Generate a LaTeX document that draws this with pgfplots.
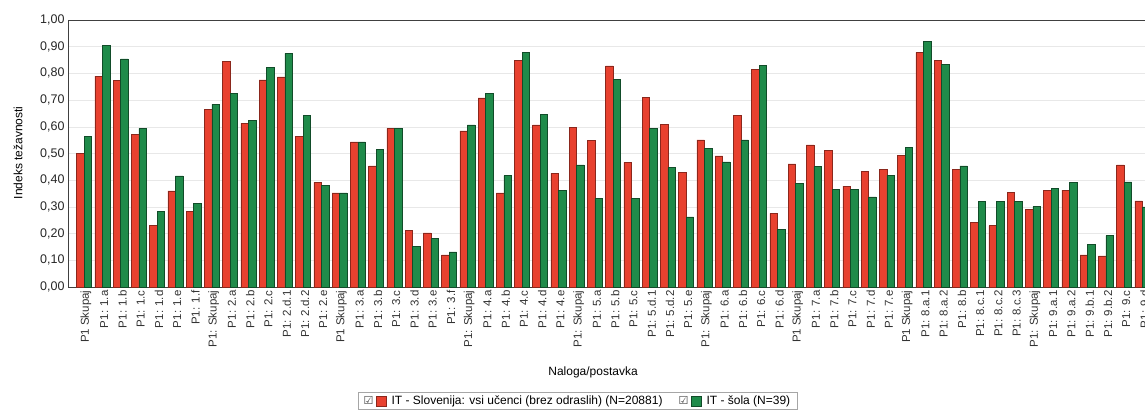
\documentclass[border=0pt]{standalone}
\usepackage{fontspec}
\setmainfont{Liberation Sans}
\newfontfamily\dejavu{DejaVu Sans}
\usepackage{pgfplots}
\usepackage{pgfplotstable}
\pgfplotsset{compat=1.18}
\definecolor{barred}{HTML}{E8412F}
\definecolor{bargreen}{HTML}{1F8B4A}
\pgfplotstableread{
x r g
1 0.500 0.563
2 0.790 0.906
3 0.773 0.854
4 0.573 0.594
5 0.230 0.283
6 0.360 0.416
7 0.283 0.313
8 0.665 0.684
9 0.846 0.725
10 0.613 0.623
11 0.776 0.823
12 0.787 0.875
13 0.563 0.644
14 0.392 0.382
15 0.353 0.353
16 0.544 0.544
17 0.454 0.516
18 0.594 0.594
19 0.213 0.151
20 0.203 0.181
21 0.120 0.132
22 0.585 0.607
23 0.708 0.725
24 0.353 0.417
25 0.848 0.878
26 0.607 0.647
27 0.426 0.363
28 0.598 0.457
29 0.548 0.332
30 0.828 0.779
31 0.467 0.332
32 0.710 0.594
33 0.610 0.447
34 0.428 0.263
35 0.551 0.519
36 0.491 0.469
37 0.643 0.551
38 0.815 0.831
39 0.276 0.217
40 0.461 0.388
41 0.532 0.451
42 0.511 0.366
43 0.378 0.366
44 0.432 0.338
45 0.441 0.419
46 0.492 0.523
47 0.879 0.919
48 0.848 0.835
49 0.441 0.454
50 0.241 0.322
51 0.230 0.322
52 0.355 0.322
53 0.292 0.301
54 0.363 0.370
55 0.363 0.392
56 0.120 0.160
57 0.117 0.192
58 0.457 0.394
59 0.323 0.300
}\data
\pgfplotsset{checkleg/.style={legend image code/.code={%
  \node[inner sep=0pt,anchor=west,font=\dejavu\fontsize{11}{11}\selectfont,text=black!75] at (0pt,0pt) {☑};
  \draw[##1] (13pt,-5pt) rectangle (23pt,5pt);}}}
\begin{document}
\begin{tikzpicture}
\useasboundingbox (0,0) rectangle (1145pt,416pt);
\begin{axis}[
  at={(68pt,129pt)}, anchor=south west,
  scale only axis, width=1077pt, height=267pt,
  xmin=0.123, xmax=59.137, ymin=0, ymax=1,
  ybar=0pt, bar width=7.5pt,
  xtick={1,...,59},
  xticklabels={P1 Skupaj, P1: 1.a, P1: 1.b, P1: 1.c, P1: 1.d, P1: 1.e, P1: 1.f,
    P1: Skupaj, P1: 2.a, P1: 2.b, P1: 2.c, P1: 2.d.1, P1: 2.d.2, P1: 2.e,
    P1 Skupaj, P1: 3.a, P1: 3.b, P1: 3.c, P1: 3.d, P1: 3.e, P1: 3.f,
    P1: Skupaj, P1: 4.a, P1: 4.b, P1: 4.c, P1: 4.d, P1: 4.e,
    P1: Skupaj, P1: 5.a, P1: 5.b, P1: 5.c, P1: 5.d.1, P1: 5.d.2, P1: 5.e,
    P1: Skupaj, P1: 6.a, P1: 6.b, P1: 6.c, P1: 6.d,
    P1 Skupaj, P1: 7.a, P1: 7.b, P1: 7.c, P1: 7.d, P1: 7.e,
    P1 Skupaj, P1: 8.a.1, P1: 8.a.2, P1: 8.b, P1: 8.c.1, P1: 8.c.2, P1: 8.c.3,
    P1: Skupaj, P1: 9.a.1, P1: 9.a.2, P1: 9.b.1, P1: 9.b.2, P1: 9.c, P1: 9.d},
  x tick label style={rotate=90, anchor=east, font=\fontsize{11.5}{12}\selectfont, text=black!80, yshift=-2pt},
  ytick={0,0.1,0.2,0.3,0.4,0.5,0.6,0.7,0.8,0.9,1},
  yticklabel style={font=\fontsize{12.5}{13}\selectfont, text=black!85,
    /pgf/number format/fixed, /pgf/number format/fixed zerofill,
    /pgf/number format/precision=2, /pgf/number format/use comma,
    /pgf/number format/assume math mode=true},
  major tick length=0pt,
  ymajorgrids, grid style={gray!18, line width=0.5pt},
  axis line style={black!75, line width=0.9pt},
  ylabel={Indeks težavnosti},
  ylabel style={at={(axis description cs:-0.0464,0.502)}, anchor=center, font=\fontsize{12}{13}\selectfont},
  xlabel={Naloga/postavka},
  xlabel style={at={(axis description cs:0.4875,-0.318)}, anchor=center, font=\fontsize{12}{13}\selectfont},
  legend columns=2,
  legend style={at={(0.4735,-0.427)}, anchor=center, draw=gray!70, line width=0.6pt,
    font=\fontsize{12}{13}\selectfont, inner xsep=5pt, inner ysep=1.5pt, row sep=0pt,
    /tikz/every even column/.append style={column sep=14pt},
    /tikz/every odd column/.append style={column sep=3pt}},
]
\addplot[fill=barred, draw=barred!60!black, line width=0.5pt, checkleg] table[x=x, y=r] {\data};
\addplot[fill=bargreen, draw=bargreen!55!black, line width=0.5pt, checkleg] table[x=x, y=g] {\data};
\legend{IT - Slovenija: vsi učenci (brez odraslih) (N=20881), IT - šola (N=39)}
\end{axis}
\end{tikzpicture}
\end{document}
